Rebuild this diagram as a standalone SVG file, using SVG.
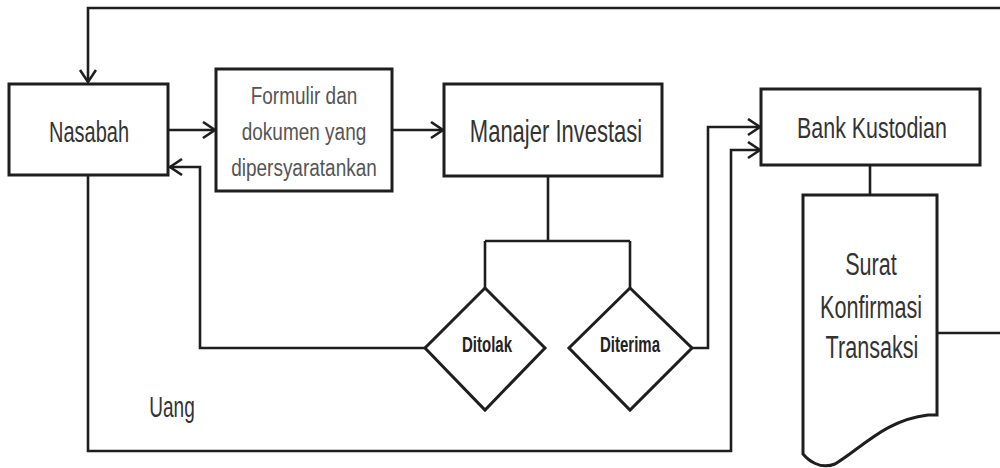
<svg xmlns="http://www.w3.org/2000/svg" width="1000" height="468" viewBox="0 0 1000 468">
<defs>
<style>
.box{fill:#fff;stroke:#1e1e1e;stroke-width:3}
.ln{fill:none;stroke:#1e1e1e;stroke-width:2.6}
.t{font-family:"Liberation Sans",Arial,sans-serif;fill:#333;text-anchor:middle}
.b{font-family:"Liberation Sans",Arial,sans-serif;fill:#222;text-anchor:middle;font-weight:bold;font-size:15px}
</style>
<marker id="arr" markerUnits="userSpaceOnUse" markerWidth="16" markerHeight="20" refX="13" refY="9" orient="auto">
<path d="M1,1 L13,9 L1,17" fill="none" stroke="#1e1e1e" stroke-width="2.6"/>
</marker>
</defs>
<rect width="1000" height="468" fill="#fff"/>
<g id="connectors">
<path class="ln" d="M1000,8 H88 V82" marker-end="url(#arr)"/>
<path class="ln" d="M1000,333 H937"/>
<path class="ln" d="M168,130 H215" marker-end="url(#arr)"/>
<path class="ln" d="M392,130 H443" marker-end="url(#arr)"/>
<path class="ln" d="M548,176 V241 M485,241 H630 M485,241 V288 M630,241 V288"/>
<path class="ln" d="M425,348 H200 V167 H170" marker-end="url(#arr)"/>
<path class="ln" d="M692,348 H708 V127 H760" marker-end="url(#arr)"/>
<path class="ln" d="M88,175 V451 H731 V150 H760" marker-end="url(#arr)"/>
<path class="ln" d="M870,165 V195"/>
</g>
<g id="nasabah">
<rect class="box" x="9" y="84" width="159" height="91"/>
<text class="t" font-size="20" transform="translate(89,142) scale(1,1.45)">Nasabah</text>
</g>
<g id="formulir">
<rect class="box" x="216" y="69" width="176" height="122"/>
<g fill="#555">
<text class="t" font-size="19" style="fill:#555" transform="translate(304,104) scale(1,1.25)">Formulir dan</text>
<text class="t" font-size="19" style="fill:#555" transform="translate(304,140) scale(1,1.25)">dokumen yang</text>
<text class="t" font-size="19" style="fill:#555" transform="translate(304,176) scale(1,1.25)">dipersyaratankan</text>
</g>
</g>
<g id="manajer">
<rect class="box" x="444" y="84" width="218" height="92"/>
<text class="t" font-size="22" transform="translate(556,142) scale(1,1.4)">Manajer Investasi</text>
</g>
<g id="bank">
<rect class="box" x="761" y="89" width="219" height="76"/>
<text class="t" font-size="21.4" transform="translate(872,138) scale(1,1.35)">Bank Kustodian</text>
</g>
<g id="surat">
<path class="box" d="M803,195 H937 V415 H928 C885,420 862,448 835,464 C820,470 808,460 803,454 Z"/>
<text class="t" font-size="21.6" transform="translate(871,275) scale(1,1.42)">Surat</text>
<text class="t" font-size="21.6" transform="translate(871,318) scale(1,1.42)">Konfirmasi</text>
<text class="t" font-size="21.6" transform="translate(872,358) scale(1,1.42)">Transaksi</text>
</g>
<g id="ditolak">
<path class="box" d="M485,288 L545,348 L485,410 L425,348 Z"/>
<text class="b" transform="translate(487,352) scale(1,1.5)">Ditolak</text>
</g>
<g id="diterima">
<path class="box" d="M630,288 L692,348 L630,410 L569,348 Z"/>
<text class="b" transform="translate(630,352) scale(1,1.5)">Diterima</text>
</g>
<g id="uang">
<text class="t" font-size="19" transform="translate(172,417) scale(1,1.55)">Uang</text>
</g>
</svg>
